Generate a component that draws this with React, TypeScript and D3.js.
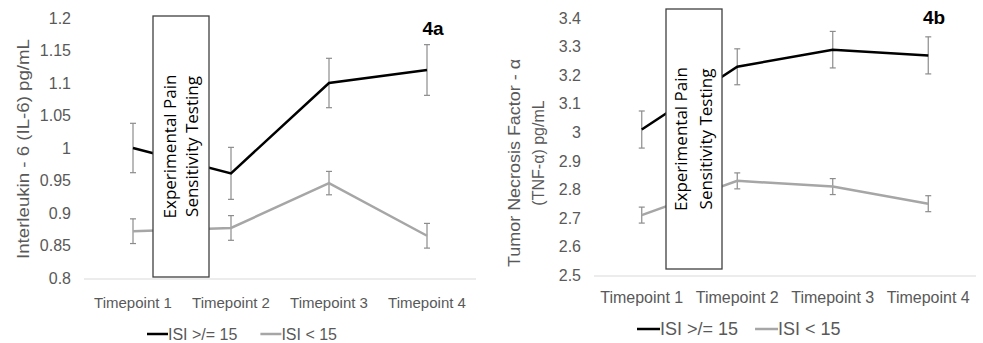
import * as d3 from 'd3';

const timepoints = ['Timepoint 1', 'Timepoint 2', 'Timepoint 3', 'Timepoint 4'];

// IL-6 (panel 4a)
const il6High = [1.0, 0.961, 1.1, 1.12];
const il6HighErr = [0.038, 0.04, 0.038, 0.039];
const il6Low = [0.872, 0.877, 0.946, 0.865];
const il6LowErr = [0.019, 0.019, 0.018, 0.019];
const il6Ticks = [0.8, 0.85, 0.9, 0.95, 1, 1.05, 1.1, 1.15, 1.2];

// TNF-alpha (panel 4b)
const tnfHigh = [3.01, 3.23, 3.29, 3.27];
const tnfHighErr = [0.065, 0.063, 0.064, 0.065];
const tnfLow = [2.71, 2.83, 2.81, 2.75];
const tnfLowErr = [0.028, 0.028, 0.028, 0.028];
const tnfTicks = [2.5, 2.6, 2.7, 2.8, 2.9, 3, 3.1, 3.2, 3.3, 3.4];

const seriesNames = ['ISI >/= 15', 'ISI < 15'];
const boxLines = ['Experimental Pain', 'Sensitivity Testing'];

const ARIAL = '"Liberation Sans", Arial, sans-serif';
const TXT = '#595959';
const HIGH = '#000000';
const LOW = '#a6a6a6';
const ERR = '#8c8c8c';

type PanelProps = {
  x0: number; x1: number; yTop: number; yBottom: number;
  domain: [number, number]; ticks: number[];
  high: number[]; highErr: number[]; low: number[]; lowErr: number[];
  tickFont: number; catFont: number; catY: number;
  box: { x: number; y: number; w: number; h: number; font: number; gap: number };
  tag: string; tagX: number; tagY: number;
  legend: { y: number; x: number; font: number; lineW: number; gap: number };
  titleLines: string[]; titleX: number[]; titleY: number[]; titleFont: number[]; titleLen: number[];
};

const Panel = (p: PanelProps) => {
  const x = d3.scaleBand().domain(timepoints).range([p.x0, p.x1]);
  const y = d3.scaleLinear().domain(p.domain).range([p.yBottom, p.yTop]);
  const cx = (i: number) => (x(timepoints[i]) as number) + x.bandwidth() / 2;
  const line = d3.line<number>().x((_, i) => cx(i)).y((d) => y(d));

  const errBars = (vals: number[], errs: number[], key: string) =>
    vals.map((v, i) => (
      <g key={key + i} stroke={ERR} strokeWidth={1.2}>
        <line x1={cx(i)} x2={cx(i)} y1={y(v + errs[i])} y2={y(v - errs[i])} />
        <line x1={cx(i) - 3} x2={cx(i) + 3} y1={y(v + errs[i])} y2={y(v + errs[i])} />
        <line x1={cx(i) - 3} x2={cx(i) + 3} y1={y(v - errs[i])} y2={y(v - errs[i])} />
      </g>
    ));

  const b = p.box;
  const bcx = b.x + b.w / 2;
  const bcy = b.y + b.h / 2;
  const lg = p.legend;
  const w1 = 4.337 * lg.font;

  return (
    <g>
      <line x1={p.x0} x2={p.x1} y1={p.yBottom + 1} y2={p.yBottom + 1} stroke="#d9d9d9" strokeWidth={1} />
      {p.ticks.map((t) => (
        <text key={t} x={p.x0 - 13} y={y(t)} dy="0.35em" textAnchor="end"
          fontFamily={ARIAL} fontSize={p.tickFont} fill={TXT}>
          {String(+t.toFixed(2))}
        </text>
      ))}
      {timepoints.map((c, i) => (
        <text key={c} x={cx(i)} y={p.catY} dy="0.35em" textAnchor="middle"
          fontFamily={ARIAL} fontSize={p.catFont} fill={TXT}>
          {c}
        </text>
      ))}
      {p.titleLines.map((t, i) => (
        <text key={t} transform={`translate(${p.titleX[i]},${p.titleY[i]}) rotate(-90)`}
          dy="0.35em" textAnchor="middle" fontFamily={ARIAL} fontSize={p.titleFont[i]} fill={TXT}
          textLength={p.titleLen[i] || undefined}
          lengthAdjust={p.titleLen[i] ? 'spacingAndGlyphs' : undefined}>
          {t}
        </text>
      ))}
      {errBars(p.high, p.highErr, 'h')}
      {errBars(p.low, p.lowErr, 'l')}
      <path d={line(p.low) ?? ''} fill="none" stroke={LOW} strokeWidth={2.5} />
      <path d={line(p.high) ?? ''} fill="none" stroke={HIGH} strokeWidth={2.5} />
      <rect x={b.x} y={b.y} width={b.w} height={b.h} fill="#fff" stroke="#404040" strokeWidth={1.3} />
      {boxLines.map((t, i) => (
        <text key={t} transform={`translate(${bcx + (i - 0.5) * b.gap},${bcy}) rotate(-90)`}
          dy="0.35em" textAnchor="middle" fontFamily='"Open Sans", sans-serif'
          fontSize={b.font} fill="#000">
          {t}
        </text>
      ))}
      <text x={p.tagX} y={p.tagY} textAnchor="middle" fontFamily={ARIAL} fontWeight="bold"
        fontSize={19} fill="#000">
        {p.tag}
      </text>
      <line x1={lg.x} x2={lg.x + lg.lineW} y1={lg.y} y2={lg.y} stroke={HIGH} strokeWidth={2.5} />
      <text x={lg.x + lg.lineW} y={lg.y} dy="0.35em" fontFamily={ARIAL} fontSize={lg.font} fill={TXT}>
        {seriesNames[0]}
      </text>
      <line x1={lg.x + lg.lineW + w1 + lg.gap} x2={lg.x + 2 * lg.lineW + w1 + lg.gap} y1={lg.y} y2={lg.y}
        stroke={LOW} strokeWidth={2.5} />
      <text x={lg.x + 2 * lg.lineW + w1 + lg.gap} y={lg.y} dy="0.35em" fontFamily={ARIAL}
        fontSize={lg.font} fill={TXT}>
        {seriesNames[1]}
      </text>
    </g>
  );
};

export default function App() {
  return (
    <svg width={983} height={343} style={{ position: 'absolute', left: 0, top: 0, background: '#fff' }}>
      <Panel
        x0={84} x1={476} yTop={18} yBottom={278} domain={[0.8, 1.2]} ticks={il6Ticks}
        high={il6High} highErr={il6HighErr} low={il6Low} lowErr={il6LowErr}
        tickFont={16} catFont={15} catY={303}
        box={{ x: 153, y: 16, w: 56, h: 261, font: 17, gap: 22 }}
        tag="4a" tagX={433} tagY={35}
        legend={{ y: 334, x: 147, font: 16, lineW: 21, gap: 23 }}
        titleLines={['Interleukin - 6 (IL-6) pg/mL']} titleX={[23]} titleY={[149]} titleLen={[220]}
        titleFont={[16]}
      />
      <Panel
        x0={594} x1={976} yTop={18.3} yBottom={275} domain={[2.5, 3.4]} ticks={tnfTicks}
        high={tnfHigh} highErr={tnfHighErr} low={tnfLow} lowErr={tnfLowErr}
        tickFont={16} catFont={16} catY={297}
        box={{ x: 666, y: 9, w: 56, h: 260, font: 17, gap: 25 }}
        tag="4b" tagX={934} tagY={24}
        legend={{ y: 329, x: 637, font: 18, lineW: 23, gap: 17 }}
        titleLines={['Tumor Necrosis Factor - α', '(TNF-α) pg/mL']} titleX={[514, 538]} titleY={[163, 153]}
        titleLen={[208, 0]} titleFont={[16, 16]}
      />
    </svg>
  );
}
